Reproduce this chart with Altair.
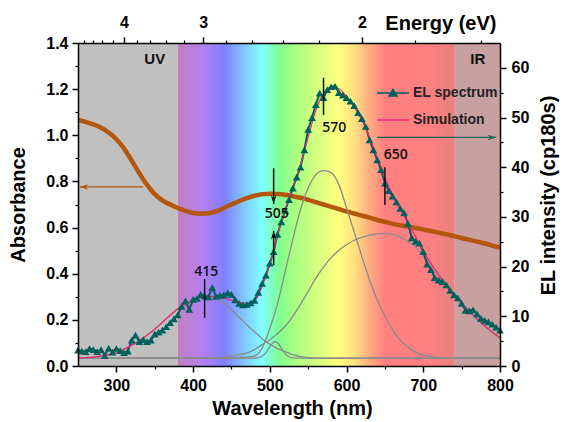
import altair as alt
import pandas as pd

# ---------------- data ----------------
el_nm = list(range(250, 805, 5))
el_counts = [
    3.2, 3.0, 2.9, 3.5, 3.3, 2.9, 3.3, 2.1, 3.6, 2.8,
    3.5, 3.1, 2.7, 3.0, 5.2, 6.2, 4.9, 5.3, 4.9, 5.2,
    6.4, 6.8, 7.2, 7.9, 8.7, 9.5, 10.3, 12.0, 13.1, 11.4,
    13.4, 13.6, 14.4, 14.1, 13.9, 15.8, 14.0, 14.2, 14.3, 14.7,
    14.4, 13.3, 12.6, 12.3, 12.4, 12.7, 13.2, 14.8, 16.6, 18.3,
    20.7, 23.0, 26.5, 29.0, 31.3, 33.5, 35.8, 38.0, 40.0, 43.5,
    47.6, 50.0, 52.6, 54.9, 54.0, 55.6, 56.2, 56.3, 55.0, 54.5,
    54.0, 53.3, 52.4, 51.0, 49.8, 48.2, 45.5, 43.5, 41.5, 39.5,
    36.8, 35.3, 34.2, 33.0, 31.7, 30.8, 28.7, 25.8, 25.1, 24.7,
    23.0, 20.5, 19.4, 17.8, 17.3, 17.0, 16.3, 15.2, 14.3, 13.7,
    12.6, 11.2, 11.1, 11.3, 10.5, 9.6, 9.2, 8.9, 8.4, 7.8,
    7.2,
]

grid_nm = list(range(250, 810, 10))
absorbance = [
    1.066, 1.058, 1.047, 1.033, 1.012, 0.983, 0.943, 0.890, 0.835, 0.785,
    0.745, 0.718, 0.700, 0.685, 0.672, 0.663, 0.660, 0.662, 0.670, 0.685,
    0.700, 0.715, 0.728, 0.738, 0.744, 0.747, 0.746, 0.742, 0.736, 0.729,
    0.720, 0.710, 0.700, 0.690, 0.680, 0.670, 0.661, 0.652, 0.643, 0.633,
    0.625, 0.616, 0.610, 0.604, 0.598, 0.592, 0.585, 0.578, 0.571, 0.563,
    0.555, 0.547, 0.539, 0.531, 0.522, 0.513,
]
simulation = [
    1.6, 1.7, 1.8, 2.0, 2.3, 2.8, 3.4, 4.2, 5.1, 6.2,
    7.4, 8.8, 10.2, 11.5, 12.5, 13.2, 13.8, 14.0, 14.0, 13.7,
    13.2, 12.8, 12.6, 13.1, 16.0, 20.5, 26.3, 31.5, 36.0, 40.5,
    46.0, 51.5, 54.8, 56.0, 55.8, 54.2, 52.2, 49.5, 46.0, 42.0,
    38.0, 34.5, 31.5, 28.8, 26.0, 23.2, 20.6, 18.3, 16.2, 14.3,
    12.6, 11.0, 9.5, 8.1, 6.8, 5.8,
]
comp_415 = [
    1.6, 1.7, 1.8, 2.0, 2.3, 2.8, 3.4, 4.2, 5.1, 6.2,
    7.4, 8.8, 10.2, 11.5, 12.5, 13.2, 13.7, 13.8, 13.5, 12.7,
    11.3, 9.8, 8.3, 6.9, 5.5, 4.4, 3.5, 2.9, 2.3, 1.9,
    1.7, 1.6, 1.6, 1.6, 1.6, 1.6, 1.6, 1.6, 1.6, 1.6,
    1.6, 1.6, 1.6, 1.6, 1.6, 1.6, 1.6, 1.6, 1.6, 1.6,
    1.6, 1.6, 1.6, 1.6, 1.6, 1.6,
]
comp_570 = [
    1.6, 1.6, 1.6, 1.6, 1.6, 1.6, 1.6, 1.6, 1.6, 1.6,
    1.6, 1.6, 1.6, 1.6, 1.6, 1.6, 1.6, 1.6, 1.6, 1.6,
    1.6, 1.7, 1.8, 2.0, 3.6, 7.5, 12.5, 19.0, 25.5, 31.5,
    35.8, 38.5, 39.3, 38.9, 36.5, 31.8, 27.0, 22.0, 17.3, 13.3,
    10.0, 7.3, 5.2, 3.8, 2.8, 2.2, 1.9, 1.7, 1.6, 1.6,
    1.6, 1.6, 1.6, 1.6, 1.6, 1.6,
]
comp_650 = [
    1.6, 1.6, 1.6, 1.6, 1.6, 1.6, 1.6, 1.6, 1.6, 1.6,
    1.6, 1.6, 1.6, 1.6, 1.6, 1.6, 1.6, 1.6, 1.6, 1.8,
    2.0, 2.3, 2.6, 3.3, 4.3, 5.3, 6.5, 8.0, 10.0, 12.4,
    15.0, 17.7, 19.9, 21.8, 23.3, 24.4, 25.3, 25.9, 26.3, 26.6,
    26.7, 26.5, 26.0, 25.0, 24.0, 22.2, 20.5, 18.6, 16.6, 14.7,
    12.8, 11.1, 9.4, 8.0, 6.7, 5.6,
]
comp_505_nm = [250, 480, 485, 490, 495, 500, 505, 507, 510, 515, 520, 525, 530, 540, 800]
comp_505 = [1.6, 1.6, 1.7, 1.95, 2.7, 3.85, 4.8, 4.9, 4.7, 3.6, 2.5, 1.86, 1.65, 1.6, 1.6]

series_names = ["EL spectrum", "Simulation"]
series_colors = ["#00605c", "#f0287a"]

peak_nm = [415, 570, 650]
peak_lo = [9.7, 50.5, 32.4]
peak_hi = [17.5, 58.0, 40.0]
peak_label = ["415", "505", "570", "650"]
peak_label_nm = [417, 509, 584, 664]
peak_label_val = [18.9, 30.6, 47.9, 42.5]

arrow505_nm = [505, 505]
arrow505_from = [39.8, 20.3]
arrow505_to = [32.6, 27.2]

el_arrow_nm = [640, 795]
el_arrow_val = 46.0
abs_arrow_nm = [335, 252]
abs_arrow_val = 0.776

band_name = ["UV", "IR"]
band_start = [250, 741]
band_end = [380, 800]
band_color = ["#c0c0c0", "#c8a0a0"]
band_label_nm = [350, 771]

spec_nm = [380, 412, 441, 467, 490, 512, 532, 553, 589, 611, 628, 650, 707, 741]
spec_color = ["#c080c0", "#b580f0", "#8080ff", "#80c8ff", "#80ffff", "#80ff90",
              "#a8ff80", "#c8ff80", "#ffff80", "#ffe080", "#ffb080", "#ff8080",
              "#ff8080", "#e88080"]

wl_major = [300, 400, 500, 600, 700, 800]
wl_minor = [350, 450, 550, 650, 750]
ev_major = [4, 3, 2]
ev_minor = [4.8, 4.6, 4.4, 4.2, 3.8, 3.6, 3.4, 3.2, 2.8, 2.6, 2.4, 2.2, 1.8, 1.6]
abs_major = [0.0, 0.2, 0.4, 0.6, 0.8, 1.0, 1.2, 1.4]
abs_minor = [0.1, 0.3, 0.5, 0.7, 0.9, 1.1, 1.3]
el_major = [0, 10, 20, 30, 40, 50, 60]
el_minor = [5, 15, 25, 35, 45, 55]

# ---------------- frames ----------------
el_df = pd.DataFrame({"nm": el_nm, "v": el_counts})
grid_df = pd.DataFrame({"nm": grid_nm, "a": absorbance, "sim": simulation})
comp_df = pd.concat([
    pd.DataFrame({"nm": grid_nm, "v": comp_415, "c": "415"}),
    pd.DataFrame({"nm": comp_505_nm, "v": comp_505, "c": "505"}),
    pd.DataFrame({"nm": grid_nm, "v": comp_570, "c": "570"}),
    pd.DataFrame({"nm": grid_nm, "v": comp_650, "c": "650"}),
])
band_df = pd.DataFrame({"name": band_name, "start": band_start, "end": band_end,
                        "color": band_color, "lx": band_label_nm})
spec_df = pd.DataFrame({"start": [spec_nm[0]], "end": [spec_nm[-1]]})
peak_df = pd.DataFrame({"nm": peak_nm, "lo": peak_lo, "hi": peak_hi})
plabel_df = pd.DataFrame({"t": peak_label, "nm": peak_label_nm, "v": peak_label_val})
a505_df = pd.DataFrame({"nm": arrow505_nm, "f": arrow505_from, "t": arrow505_to})
el_arrow_df = pd.DataFrame({"x0": [el_arrow_nm[0]], "x1": [el_arrow_nm[1]], "v": [el_arrow_val]})
abs_arrow_df = pd.DataFrame({"x0": [abs_arrow_nm[0]], "x1": [abs_arrow_nm[1]], "v": [abs_arrow_val]})
legend_df = pd.DataFrame({"series": series_names})

# ---------------- scales / axes ----------------
FONT = "Liberation Sans"
xs = alt.Scale(domain=[250, 800], nice=False, zero=False)
yl = alt.Scale(domain=[0, 1.4], nice=False, zero=False)
yr = alt.Scale(domain=[0, 65], nice=False, zero=False)

common = dict(domainColor="black", domainWidth=1.5, tickColor="black", tickWidth=1.5,
              labelFont=FONT, labelFontWeight="bold", labelFontSize=16, labelColor="black",
              titleFont=FONT, titleFontWeight="bold", titleFontSize=20, titleColor="black",
              grid=False, zindex=1)
minor = dict(domain=False, labels=False, tickColor="black", tickWidth=1.2, tickSize=3,
             grid=False, zindex=1, title=None)

ax_bottom = alt.Axis(orient="bottom", values=wl_major, format="d", tickSize=6, labelPadding=5,
                     labelFlush=False, title="Wavelength (nm)", titleX=214, titleY=48,
                     titleBaseline="alphabetic", titleAlign="center", **common)
ax_bottom_minor = alt.Axis(orient="bottom", values=wl_minor, **minor)
ax_top = alt.Axis(orient="top", values=[1240 / e for e in ev_major], tickSize=6, labelPadding=7,
                  labelFlush=False, labelExpr="format(1240/datum.value, '.0f')",
                  title="Energy (eV)", titleX=418, titleY=-14, titleAlign="right",
                  titleBaseline="alphabetic", **common)
ax_top_minor = alt.Axis(orient="top", values=[1240 / e for e in ev_minor], **minor)
ax_left = alt.Axis(orient="left", values=abs_major, format=".1f", tickSize=6, labelPadding=4,
                   labelFlush=False, title="Absorbance", titleX=-60, titleY=161.5, titleAngle=270,
                   titleAlign="center", titleBaseline="middle", **common)
ax_left_minor = alt.Axis(orient="left", values=abs_minor, **minor)
ax_right = alt.Axis(orient="right", values=el_major, format="d", tickSize=6, labelPadding=5,
                    labelFlush=False, title="EL intensity (cp180s)", titleX=48, titleY=152,
                    titleAngle=270, titleAlign="center", titleBaseline="middle", **common)
ax_right_minor = alt.Axis(orient="right", values=el_minor, **minor)

TEAL = series_colors[0]
PINK = series_colors[1]
BROWN = "#b4560c"

# ---------------- layers ----------------
bands = alt.Chart(band_df).mark_rect().encode(
    x=alt.X("start:Q", scale=xs, axis=ax_bottom),
    x2="end:Q",
    color=alt.Color("color:N", scale=None),
)
stops = [alt.GradientStop(offset=(n - spec_nm[0]) / (spec_nm[-1] - spec_nm[0]), color=c)
         for n, c in zip(spec_nm, spec_color)]
grad = alt.LinearGradient(gradient="linear", stops=stops, x1=0, x2=1, y1=0, y2=0)
spectrum = alt.Chart(spec_df).mark_rect(color=grad).encode(
    x=alt.X("start:Q", scale=xs, axis=ax_bottom_minor),
    x2="end:Q",
)
band_text = alt.Chart(band_df).mark_text(font=FONT, fontWeight="bold", fontSize=15,
                                          color="#111").encode(
    x=alt.X("lx:Q", scale=xs, axis=None),
    y=alt.value(16),
    text="name:N",
)

abs_line = alt.Chart(grid_df).mark_line(color=BROWN, strokeWidth=4.5, interpolate="monotone").encode(
    x=alt.X("nm:Q", scale=xs, axis=ax_top),
    y=alt.Y("a:Q", scale=yl, axis=ax_left),
)
abs_arrow = alt.Chart(abs_arrow_df).mark_rule(color=BROWN, strokeWidth=1.3).encode(
    x=alt.X("x0:Q", scale=xs, axis=ax_top_minor),
    x2="x1:Q",
    y=alt.Y("v:Q", scale=yl, axis=ax_left_minor),
)
abs_head = alt.Chart(abs_arrow_df).mark_point(
    shape="M0,0L1.6,-0.5L1.1,0L1.6,0.5Z", filled=True, size=120, color=BROWN, opacity=1,
    strokeWidth=0).encode(
    x=alt.X("x1:Q", scale=xs, axis=None),
    y=alt.Y("v:Q", scale=yl, axis=None),
)

comps = alt.Chart(comp_df).mark_line(color="#8a8a8a", strokeWidth=1.3, interpolate="monotone").encode(
    x=alt.X("nm:Q", scale=xs, axis=None),
    y=alt.Y("v:Q", scale=yr, axis=None),
    detail="c:N",
)

el_line = alt.Chart(el_df).mark_line(color=TEAL, strokeWidth=2).encode(
    x=alt.X("nm:Q", scale=xs, axis=None),
    y=alt.Y("v:Q", scale=yr, axis=ax_right),
)
el_pts = alt.Chart(el_df).mark_point(shape="triangle-up", filled=True, size=60, color=TEAL,
                                     opacity=1, strokeWidth=0).encode(
    x=alt.X("nm:Q", scale=xs, axis=None),
    y=alt.Y("v:Q", scale=yr, axis=ax_right_minor),
)
sim_line = alt.Chart(grid_df).mark_line(color=PINK, strokeWidth=1.2, interpolate="monotone").encode(
    x=alt.X("nm:Q", scale=xs, axis=None),
    y=alt.Y("sim:Q", scale=yr, axis=None),
)

el_arrow = alt.Chart(el_arrow_df).mark_rule(color=TEAL, strokeWidth=1.3).encode(
    x=alt.X("x0:Q", scale=xs, axis=None),
    x2="x1:Q",
    y=alt.Y("v:Q", scale=yr, axis=None),
)
el_head = alt.Chart(el_arrow_df).mark_point(
    shape="M0,0L-1.6,-0.5L-1.1,0L-1.6,0.5Z", filled=True, size=120, color=TEAL, opacity=1,
    strokeWidth=0).encode(
    x=alt.X("x1:Q", scale=xs, axis=None),
    y=alt.Y("v:Q", scale=yr, axis=None),
)

peaks = alt.Chart(peak_df).mark_rule(color="#111", strokeWidth=1.5).encode(
    x=alt.X("nm:Q", scale=xs, axis=None),
    y=alt.Y("lo:Q", scale=yr, axis=None),
    y2="hi:Q",
)
a505 = alt.Chart(a505_df).mark_rule(color="#111", strokeWidth=1.5).encode(
    x=alt.X("nm:Q", scale=xs, axis=None),
    y=alt.Y("f:Q", scale=yr, axis=None),
    y2="t:Q",
)
a505_down = alt.Chart(a505_df.iloc[[0]]).mark_point(
    shape="M0,0L-0.5,-1.6L0,-1.1L0.5,-1.6Z", filled=True, size=120, color="#111", opacity=1,
    strokeWidth=0).encode(
    x=alt.X("nm:Q", scale=xs, axis=None),
    y=alt.Y("t:Q", scale=yr, axis=None),
)
a505_up = alt.Chart(a505_df.iloc[[1]]).mark_point(
    shape="M0,0L-0.5,1.6L0,1.1L0.5,1.6Z", filled=True, size=120, color="#111", opacity=1,
    strokeWidth=0).encode(
    x=alt.X("nm:Q", scale=xs, axis=None),
    y=alt.Y("t:Q", scale=yr, axis=None),
)
plabels = alt.Chart(plabel_df).mark_text(font="Open Sans", fontWeight=600, fontSize=14,
                                         color="#111").encode(
    x=alt.X("nm:Q", scale=xs, axis=None),
    y=alt.Y("v:Q", scale=yr, axis=None),
    text="t:N",
)

leg = alt.Legend(orient="none", legendX=298, legendY=33, title=None, padding=0,
                 labelFont=FONT, labelFontWeight="bold", labelFontSize=14, labelColor="#222",
                 symbolSize=1024, symbolStrokeWidth=1.5, symbolOpacity=1, rowPadding=3,
                 labelOffset=3)
legend_layer = alt.Chart(legend_df).mark_point(filled=True, opacity=1, strokeWidth=1.5).encode(
    fill=alt.Fill("series:N", scale=alt.Scale(domain=series_names, range=series_colors), legend=leg),
    stroke=alt.Stroke("series:N", scale=alt.Scale(domain=series_names, range=series_colors), legend=leg),
    shape=alt.Shape("series:N", scale=alt.Scale(
        domain=series_names,
        range=["M-1,0L1,0M-0.25,0.18L0,-0.22L0.25,0.18Z", "M-1,0L1,0"]), legend=leg),
).transform_filter("false")

chart = alt.layer(
    bands, spectrum, band_text, abs_line, abs_arrow, abs_head, comps,
    el_line, sim_line, el_pts, el_arrow, el_head, peaks, a505, a505_down, a505_up,
    plabels, legend_layer,
).properties(
    width=422, height=323,
    padding={"left": 78, "top": 43, "right": 66, "bottom": 56},
    autosize=alt.AutoSizeParams(type="none"),
    background="white",
).resolve_scale(y="independent").resolve_axis(x="independent", y="independent").configure_view(stroke=None)

chart.save("out.html", embed_options={"renderer": "svg", "actions": False})
